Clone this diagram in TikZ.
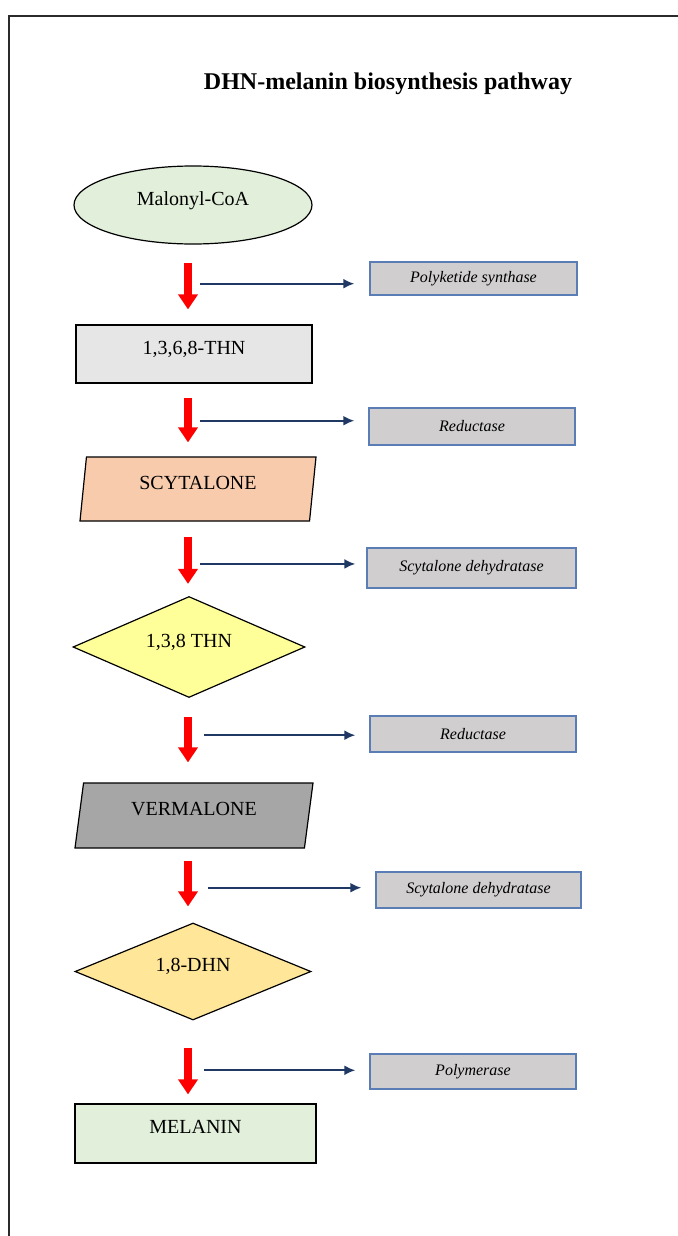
\documentclass[tikz,border=0pt]{standalone}
\usepackage{fontspec}
\setmainfont{Liberation Serif}
\usetikzlibrary{shapes.geometric, arrows.meta}
\definecolor{palegreen}{HTML}{E2EFDA}
\definecolor{palegray}{HTML}{E7E6E6}
\definecolor{salmon}{HTML}{F8CBAD}
\definecolor{lemon}{HTML}{FFFF99}
\definecolor{midgray}{HTML}{A6A6A6}
\definecolor{sand}{HTML}{FFE699}
\definecolor{enzfill}{HTML}{D0CECE}
\definecolor{enzedge}{HTML}{5B7DB5}
\definecolor{navy}{HTML}{1F3864}
\definecolor{framegray}{HTML}{2B2B2B}

\begin{document}
\begin{tikzpicture}[x=0.5pt, y=-0.5pt,
    stage/.style={draw=black, line width=0.6pt, inner sep=0pt, text height=7pt, text depth=7pt,
        font=\fontsize{10}{12}\selectfont},
    enzyme/.style={draw=enzedge, fill=enzfill, line width=0.7pt, inner sep=0pt,
        font=\fontsize{8}{10}\selectfont\itshape},
    down/.style={red, line width=4.2pt, -{Triangle[width=9.5pt,length=7.5pt]}},
    side/.style={navy, line width=1pt, -{Latex[length=5.5pt,width=5pt]}}]
    \useasboundingbox (0,0) rectangle (678,1236);
    \draw[framegray, line width=1.4pt] (678,16) -- (9,16) -- (9,1236);
    \node[font=\fontsize{12}{14}\selectfont\bfseries] (title) at (388,84) {DHN-melanin biosynthesis pathway};

    \node[stage, ellipse, fill=palegreen, minimum width=119pt, minimum height=39pt] (malonyl) at (193,205) {Malonyl-CoA};
    \node[stage, rectangle, fill=palegray, minimum width=118pt, minimum height=29pt] (thn4) at (194,354) {1,3,6,8-THN};
    \node[stage, trapezium, trapezium left angle=77, trapezium right angle=103, trapezium stretches body,
        fill=salmon, minimum width=118pt, minimum height=32pt] (scyt) at (198,489) {SCYTALONE};
    \node[stage, diamond, aspect=2.4, fill=lemon, minimum width=116pt, minimum height=50.5pt] (thn3) at (189,647) {1,3,8 THN};
    \node[stage, trapezium, trapezium left angle=73, trapezium right angle=107, trapezium stretches body,
        fill=midgray, minimum width=119pt, minimum height=32.5pt] (verm) at (194,815.5) {VERMALONE};
    \node[stage, diamond, aspect=2.4, fill=sand, minimum width=118pt, minimum height=48.5pt] (dhn) at (193,971.5) {1,8-DHN};
    \node[stage, rectangle, fill=palegreen, minimum width=120.5pt, minimum height=29.5pt] (melanin) at (195.5,1133.5) {MELANIN};

    \node[enzyme, minimum width=103.5pt, minimum height=16.5pt] (pks) at (473.5,278.5) {Polyketide synthase};
    \node[enzyme, minimum width=103pt, minimum height=18.5pt] (red1) at (472,426.5) {Reductase};
    \node[enzyme, minimum width=104.5pt, minimum height=20pt] (dehy1) at (471.5,568) {Scytalone dehydratase};
    \node[enzyme, minimum width=103pt, minimum height=18pt] (red2) at (473,734) {Reductase};
    \node[enzyme, minimum width=102.5pt, minimum height=18pt] (dehy2) at (478.5,890) {Scytalone dehydratase};
    \node[enzyme, minimum width=103pt, minimum height=17.5pt] (poly) at (473,1071.5) {Polymerase};

    \coordinate (axis) at (188,0);
    \draw[down, shorten <=9pt, shorten >=7.5pt] (malonyl.south -| axis) -- coordinate[pos=0.49] (m1) (thn4.north -| axis);
    \draw[down, shorten <=7pt, shorten >=7pt] (thn4.south -| axis) -- coordinate[pos=0.51] (m2) (scyt.north -| axis);
    \draw[down, shorten <=7.5pt, shorten >=6pt] (scyt.south -| axis) -- coordinate[pos=0.57] (m3) (thn3.north -| axis);
    \draw[down, shorten <=9.5pt, shorten >=10pt] (thn3.south -| axis) -- coordinate[pos=0.44] (m4) (verm.north -| axis);
    \draw[down, shorten <=6pt, shorten >=8pt] (verm.south -| axis) -- coordinate[pos=0.53] (m5) (dhn.north -| axis);
    \draw[down, shorten <=13.5pt, shorten >=4.5pt] (dhn.south -| axis) -- coordinate[pos=0.6] (m6) (melanin.north -| axis);

    \draw[side, shorten <=6pt, shorten >=7.5pt] (m1) -- (m1 -| pks.west);
    \draw[side, shorten <=6pt, shorten >=7pt] (m2) -- (m2 -| red1.west);
    \draw[side, shorten <=6pt, shorten >=5.5pt] (m3) -- (m3 -| dehy1.west);
    \draw[side, shorten <=8pt, shorten >=7pt] (m4) -- (m4 -| red2.west);
    \draw[side, shorten <=10pt, shorten >=7pt] (m5) -- (m5 -| dehy2.west);
    \draw[side, shorten <=8pt, shorten >=7pt] (m6) -- (m6 -| poly.west);
\end{tikzpicture}
\end{document}
